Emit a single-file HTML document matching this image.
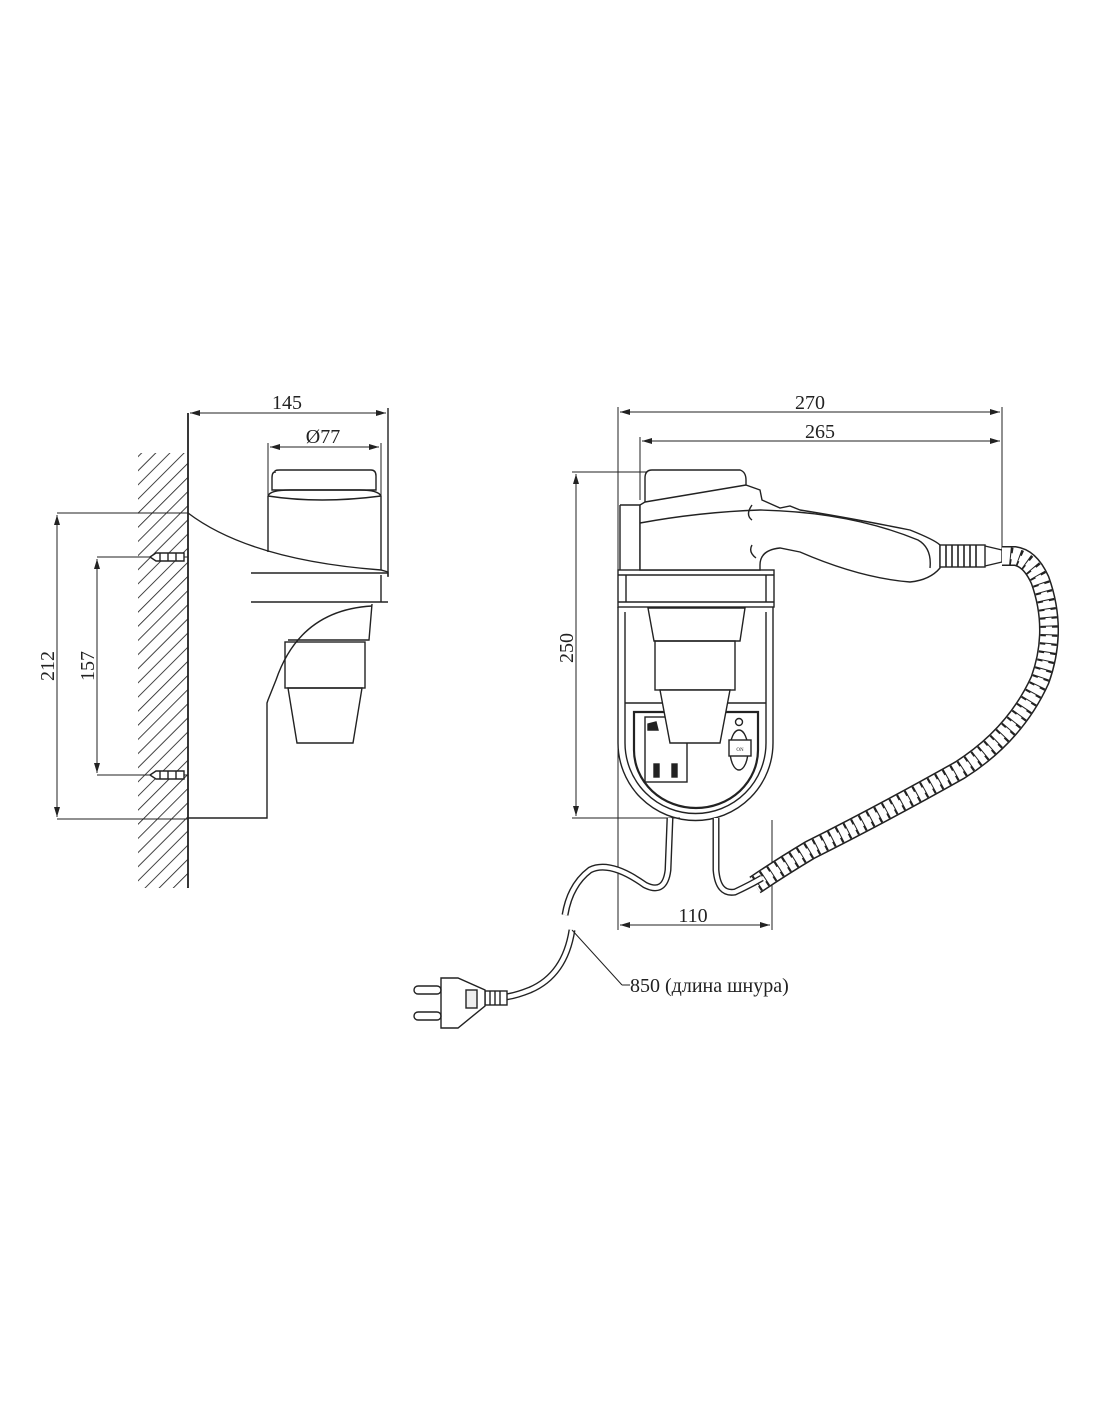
<!DOCTYPE html>
<html><head><meta charset="utf-8"><style>
html,body{margin:0;padding:0;background:#fff;}
svg{display:block;}
text{font-family:"Liberation Serif","DejaVu Serif",serif;fill:#222;}
</style></head><body>
<svg width="1100" height="1422" viewBox="0 0 1100 1422" xmlns="http://www.w3.org/2000/svg">
<defs>
<marker id="a" viewBox="0 0 10 6" refX="10" refY="3" markerWidth="10" markerHeight="6" orient="auto-start-reverse" markerUnits="userSpaceOnUse">
<path d="M0,0 L10,3 L0,6 z" fill="#222"/></marker>
<pattern id="h" width="10" height="10" patternUnits="userSpaceOnUse" patternTransform="rotate(45)">
<line x1="0" y1="0" x2="0" y2="10" stroke="#222" stroke-width="1.7"/></pattern>
</defs>
<g fill="none" stroke="#222" stroke-width="1.4">
<!-- LEFT VIEW -->
<rect x="138" y="453" width="50" height="435" fill="url(#h)" stroke="none"/>
<line x1="188" y1="413" x2="188" y2="888" stroke-width="1.8"/>
<line x1="388" y1="408" x2="388" y2="576"/>
<line x1="190" y1="413" x2="386" y2="413" marker-start="url(#a)" marker-end="url(#a)" stroke-width="1"/>
<line x1="268" y1="443" x2="268" y2="505" stroke-width="1"/>
<line x1="381" y1="443" x2="381" y2="505" stroke-width="1"/>
<line x1="270" y1="447" x2="379" y2="447" marker-start="url(#a)" marker-end="url(#a)" stroke-width="1"/>
<path d="M275,472 Q274,470 280,470 L371,470 Q376,470 376,476 L376,490 L272,490 L272,478 Q272,472 275,472z"/>
<path d="M268,496 Q270,490 290,490 L360,490 Q378,490 381,496 L381,570 M268,496 L268,552"/>
<path d="M268,496 Q320,504 381,496"/>
<path d="M188,513 Q250,560 381,570 L388,572 L388,577"/>
<line x1="251" y1="573" x2="388" y2="573"/>
<line x1="251" y1="602" x2="388" y2="602"/>
<line x1="381" y1="575" x2="381" y2="602"/>
<path d="M372,604 L369,640 L288,640"/>
<path d="M372,606 Q300,610 276,680 L268,700 L267,703 L267,818 L188,818"/>
<rect x="285" y="642" width="80" height="46"/>
<path d="M288,688 L362,688 L353,743 L297,743z"/>
<line x1="57" y1="513" x2="188" y2="513" stroke-width="1"/>
<line x1="57" y1="819" x2="188" y2="819" stroke-width="1"/>
<line x1="57" y1="515" x2="57" y2="817" marker-start="url(#a)" marker-end="url(#a)" stroke-width="1"/>
<line x1="97" y1="557" x2="188" y2="557" stroke-width="1"/>
<line x1="97" y1="775" x2="188" y2="775" stroke-width="1"/>
<line x1="97" y1="559" x2="97" y2="773" marker-start="url(#a)" marker-end="url(#a)" stroke-width="1"/>
<g fill="#fff"><path d="M150,557 L156,553 L184,553 L184,561 L156,561z"/><path d="M150,775 L156,771 L184,771 L184,779 L156,779z"/></g>
<line x1="160" y1="553" x2="160" y2="561"/><line x1="168" y1="553" x2="168" y2="561"/><line x1="176" y1="553" x2="176" y2="561"/>
<line x1="160" y1="771" x2="160" y2="779"/><line x1="168" y1="771" x2="168" y2="779"/><line x1="176" y1="771" x2="176" y2="779"/>
<!-- RIGHT VIEW dims -->
<line x1="618" y1="407" x2="618" y2="930" stroke-width="1"/>
<line x1="1002" y1="407" x2="1002" y2="556" stroke-width="1"/>
<line x1="620" y1="412" x2="1000" y2="412" marker-start="url(#a)" marker-end="url(#a)" stroke-width="1"/>
<line x1="640" y1="437" x2="640" y2="500" stroke-width="1"/>
<line x1="642" y1="441" x2="1000" y2="441" marker-start="url(#a)" marker-end="url(#a)" stroke-width="1"/>
<line x1="572" y1="472" x2="650" y2="472" stroke-width="1"/>
<line x1="572" y1="818" x2="680" y2="818" stroke-width="1"/>
<line x1="576" y1="474" x2="576" y2="816" marker-start="url(#a)" marker-end="url(#a)" stroke-width="1"/>
<line x1="772" y1="820" x2="772" y2="930" stroke-width="1"/>
<line x1="620" y1="925" x2="770" y2="925" marker-start="url(#a)" marker-end="url(#a)" stroke-width="1"/>
<!-- body -->
<path d="M620,505 L640,505 L640,570 M620,505 L620,570"/>
<path d="M618,607 L618,743 A77,77 0 0 0 773,743 L773,607"/>
<path d="M625,612 L625,743 A70,70 0 0 0 766,743 L766,612"/>
<line x1="625" y1="703" x2="766" y2="703"/>
<path d="M634,712 L758,712 L758,750 A62,58 0 0 1 634,750 Z" stroke-width="2.2"/>
<rect x="645" y="717" width="42" height="65"/>
<rect x="654" y="764" width="5" height="13" fill="#222"/><rect x="672" y="764" width="5" height="13" fill="#222"/>
<path d="M648,724 L656,722 L658,730 L648,730z" fill="#222"/>
<circle cx="739" cy="722" r="3.5"/>
<ellipse cx="739" cy="750" rx="9" ry="20"/>
<rect x="729" y="740" width="22" height="16" fill="#fff"/>
<text x="740" y="751" font-size="5" text-anchor="middle" stroke="none">ON</text>
<rect x="618" y="570" width="156" height="37" fill="#fff"/>
<line x1="618" y1="575" x2="774" y2="575"/><line x1="618" y1="602" x2="774" y2="602"/>
<line x1="626" y1="575" x2="626" y2="602"/><line x1="766" y1="575" x2="766" y2="602"/>
<!-- nozzle -->
<path d="M648,608 L745,608 L740,641 L654,641z"/>
<rect x="655" y="641" width="80" height="49"/>
<path d="M660,690 L730,690 L720,743 L670,743z" fill="#fff"/>
<!-- dryer head -->
<path d="M645,478 Q645,470 652,470 L740,470 Q746,472 746,480 L746,485 L760,490 L762,500 L780,508 L790,506 L800,510 Q850,518 910,530 Q935,540 940,545 L940,568 Q930,580 910,582 Q860,578 800,552 L780,548 Q760,550 760,565 L760,570 L640,570 L640,505 L645,502 Z" fill="#fff"/>
<path d="M645,502 L746,485"/>
<path d="M640,523 Q700,512 760,510 Q850,512 918,540 Q932,548 930,568"/>
<path d="M752,505 Q745,515 752,520 M752,545 Q748,552 756,558"/>
<rect x="940" y="545" width="45" height="22" fill="#fff"/>
<g stroke-width="1.6"><line x1="946" y1="545" x2="946" y2="567"/><line x1="952" y1="545" x2="952" y2="567"/><line x1="958" y1="545" x2="958" y2="567"/><line x1="964" y1="545" x2="964" y2="567"/><line x1="970" y1="545" x2="970" y2="567"/><line x1="976" y1="545" x2="976" y2="567"/></g>
<path d="M985,546 L1002,550 L1002,562 L985,566"/>
<!-- coiled cord -->
<path d="M1002,556 L1015,556 Q1030,558 1040,580 Q1058,630 1040,680 Q1015,735 960,770 Q880,815 810,850 Q780,868 755,885" stroke="#222" stroke-width="20"/>
<path d="M1002,556 L1015,556 Q1030,558 1040,580 Q1058,630 1040,680 Q1015,735 960,770 Q880,815 810,850 Q780,868 755,885" stroke="#fff" stroke-width="17"/>
<path d="M1010,556 Q1030,558 1040,580 Q1058,630 1040,680 Q1015,735 960,770 Q880,815 810,850 Q780,868 755,885" stroke="#222" stroke-width="17" stroke-dasharray="2.2 6.5"/>
<path d="M1010,556 Q1030,558 1040,580 Q1058,630 1040,680 Q1015,735 960,770 Q880,815 810,850 Q780,868 755,885" stroke="#fff" stroke-width="6" stroke-dasharray="5 3.7" stroke-dashoffset="-1"/>
<!-- straight cords -->
<path d="M670,818 L668,870 Q665,895 645,885 Q610,860 590,870 Q570,885 565,915" stroke-width="7"/>
<path d="M670,818 L668,870 Q665,895 645,885 Q610,860 590,870 Q570,885 565,915" stroke="#fff" stroke-width="4.2"/>
<path d="M716,818 L716,870 Q718,895 735,892 Q750,885 762,878" stroke-width="7"/>
<path d="M716,818 L716,870 Q718,895 735,892 Q750,885 762,878" stroke="#fff" stroke-width="4.2"/>
<path d="M572,930 Q565,975 530,990 Q515,996 505,997" stroke-width="7"/>
<path d="M572,930 Q565,975 530,990 Q515,996 505,997" stroke="#fff" stroke-width="4.2"/>
<!-- plug -->
<rect x="485" y="991" width="22" height="14" fill="#fff"/>
<line x1="490" y1="991" x2="490" y2="1005"/><line x1="495" y1="991" x2="495" y2="1005"/><line x1="500" y1="991" x2="500" y2="1005"/>
<path d="M441,978 L458,978 L485,990 L485,1006 L458,1028 L441,1028 Z" fill="#fff"/>
<rect x="466" y="990" width="11" height="18" fill="#eee"/>
<rect x="414" y="986" width="27" height="8" rx="4"/>
<rect x="414" y="1012" width="27" height="8" rx="4"/>
<line x1="572" y1="930" x2="622" y2="985" stroke-width="1"/>
<line x1="622" y1="985" x2="630" y2="985" stroke-width="1"/>
</g>
<g font-size="20">
<text x="287" y="409" text-anchor="middle">145</text>
<text x="323" y="443" text-anchor="middle">Ø77</text>
<text x="810" y="409" text-anchor="middle">270</text>
<text x="820" y="438" text-anchor="middle">265</text>
<text x="693" y="922" text-anchor="middle">110</text>
<text x="630" y="992">850 (длина шнура)</text>
<text transform="translate(54,666) rotate(-90)" text-anchor="middle">212</text>
<text transform="translate(94,666) rotate(-90)" text-anchor="middle">157</text>
<text transform="translate(573,648) rotate(-90)" text-anchor="middle">250</text>
</g>
</svg>
</body></html>
